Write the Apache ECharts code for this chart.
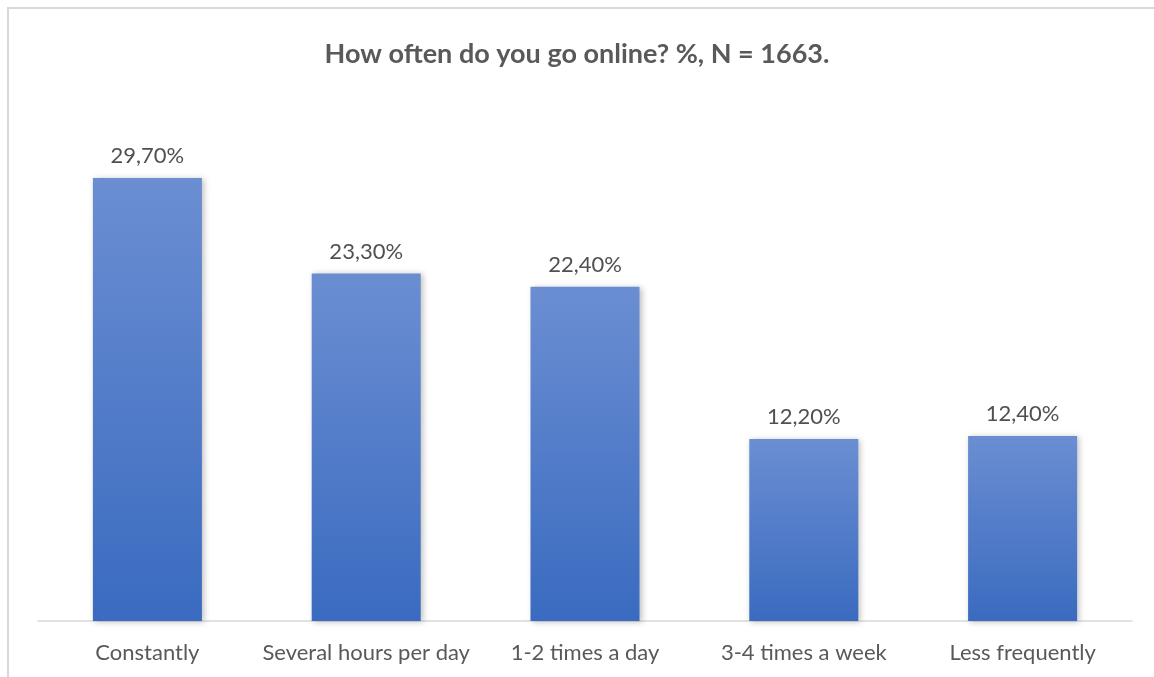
<!DOCTYPE html>
<html>
<head>
<meta charset="utf-8">
<script src="https://cdn.jsdelivr.net/npm/echarts@6/dist/echarts.min.js"></script>
<style>html,body{margin:0;padding:0;background:#fff}#c{width:1154px;height:677px}</style>
</head>
<body>
<div id="c"></div>
<script>
const categories = ['Constantly', 'Several hours per day', '1-2 times a day', '3-4 times a week', 'Less frequently'];
const values = [29.7, 23.3, 22.4, 12.2, 12.4];
const titleText = 'How often do you go online? %, N = 1663.';

const chart = echarts.init(document.getElementById('c'));
chart.setOption({
  backgroundColor: '#ffffff',
  animation: false,
  title: {
    text: titleText,
    left: 'center',
    top: 36,
    textStyle: { fontFamily: 'Lato', fontSize: 27, fontWeight: 'bold', color: '#595959' }
  },
  graphic: [{
    type: 'rect',
    shape: { x: 8, y: 8, width: 1200, height: 720 },
    style: { fill: 'none', stroke: '#d9d9d9', lineWidth: 2 },
    silent: true, z: -1
  }],
  grid: { left: 38, right: 22, top: 173.5, bottom: 56, containLabel: false },
  xAxis: {
    type: 'category',
    data: categories,
    axisLine: { lineStyle: { color: '#d9d9d9', width: 1.5 } },
    axisTick: { show: false },
    axisLabel: { fontFamily: 'Lato', fontSize: 22, color: '#595959', margin: 21, interval: 0 }
  },
  yAxis: {
    type: 'value', min: 0, max: 30,
    show: false,
    splitLine: { show: false }
  },
  series: [{
    type: 'bar',
    data: values,
    barWidth: 109,
    itemStyle: {
      color: new echarts.graphic.LinearGradient(0, 0, 0, 1, [
        { offset: 0, color: '#6b8ed2' },
        { offset: 1, color: '#3a6bc0' }
      ]),
      shadowColor: 'rgba(0,0,0,0.25)',
      shadowBlur: 6,
      shadowOffsetX: 2,
      shadowOffsetY: 1
    },
    label: {
      show: true,
      position: 'top',
      distance: 11,
      fontFamily: 'Lato', fontSize: 22, color: '#505050',
      formatter: p => p.value.toFixed(2).replace('.', ',') + '%'
    }
  }]
});
</script>
</body>
</html>
